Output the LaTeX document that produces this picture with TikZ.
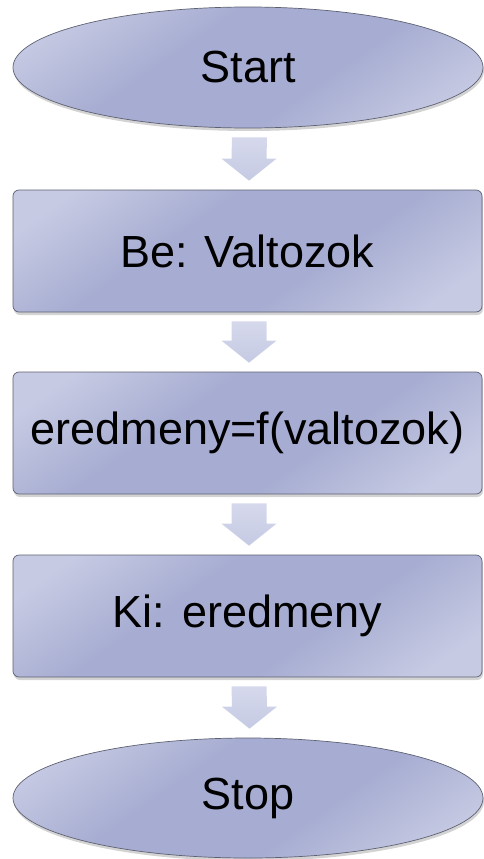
\documentclass[tikz,border=0pt]{standalone}
\usepackage{fontspec}
\setmainfont{Liberation Sans}
\usetikzlibrary{shapes.geometric,shadows,calc}
\definecolor{nodelight}{HTML}{C6CAE3}
\definecolor{nodedark}{HTML}{A7ADD2}
\definecolor{nodeedge}{HTML}{5E6172}
\definecolor{arrowtop}{HTML}{D6D9EC}
\definecolor{arrowbot}{HTML}{C5CAE3}
\pgfdeclarehorizontalshading{flowshade}{100bp}{color(0bp)=(nodelight); color(22bp)=(nodelight); color(40bp)=(nodedark); color(60bp)=(nodedark); color(78bp)=(nodelight); color(100bp)=(nodelight)}
\tikzset{
  flowbase/.style={draw=nodeedge, line width=0.7pt,
    shading=flowshade, shading angle=-55,
    drop shadow={opacity=0.35, shadow xshift=1pt, shadow yshift=-3pt},
    font=\fontsize{45}{50}\selectfont, inner sep=0pt, text=black},
  termbox/.style={flowbase, ellipse, minimum width=470pt, minimum height=121pt},
  procbox/.style={flowbase, rectangle, rounded corners=6pt, minimum width=469pt, minimum height=122pt},
  arrowshape/.style={top color=arrowtop, bottom color=arrowbot, draw=none}
}
\newcommand{\flowarrow}[2]{%
  \path[arrowshape]
    ($(#1.south)+(-16,9)$) -- ($(#1.south)+(19,9)$) --
    ($(#2.north)+(19,-31)$) -- ($(#2.north)+(29,-31)$) --
    ($(#2.north)+(1.5,-9)$) --
    ($(#2.north)+(-26,-31)$) -- ($(#2.north)+(-16,-31)$) -- cycle;}
\begin{document}
\begin{tikzpicture}[x=1pt,y=-1pt]
\useasboundingbox (0,0) rectangle (483,859);
\node[termbox] (start) at (248,67.5) {Start};
\node[procbox] (be) at (247.5,251) {Be: Valtozok};
\node[procbox] (calc) at (247.5,433) {eredmeny=f(valtozok)};
\node[procbox] (ki) at (247.5,616) {Ki: eredmeny};
\node[termbox, minimum height=120pt] (stop) at (248,798) {Stop};
\flowarrow{start}{be}
\flowarrow{be}{calc}
\flowarrow{calc}{ki}
\flowarrow{ki}{stop}
\end{tikzpicture}
\end{document}
